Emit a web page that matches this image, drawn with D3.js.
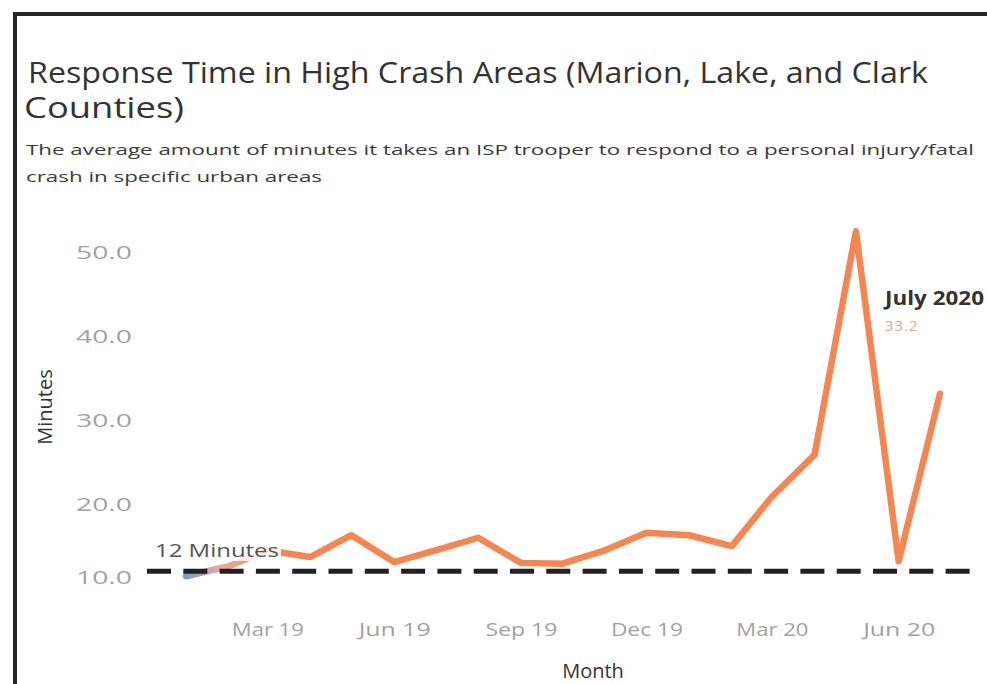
<!DOCTYPE html>
<html>
<head>
<meta charset="utf-8">
<script src="https://cdn.jsdelivr.net/npm/d3@7"></script>
<style>
  html, body { margin: 0; padding: 0; background: #fff; }
  svg { display: block; font-family: "Open Sans", "Noto Sans", sans-serif; }
</style>
</head>
<body>
<svg id="chart" width="987" height="684"></svg>
<script>
// Monthly average response time (minutes), Jan 2019 – Jul 2020
const months = ["2019-01", "2019-02", "2019-03", "2019-04", "2019-05", "2019-06",
                "2019-07", "2019-08", "2019-09", "2019-10", "2019-11", "2019-12",
                "2020-01", "2020-02", "2020-03", "2020-04", "2020-05", "2020-06", "2020-07"];
const minutes = [11.4, 12.6, 14.5, 13.7, 16.3, 13.1, 14.5, 16.0, 13.0, 12.9, 14.5, 16.6,
                 16.3, 15.0, 20.9, 25.9, 52.6, 13.2, 33.2];
const yTicks = [10, 20, 30, 40, 50];
const xTicks = ["2019-03", "2019-06", "2019-09", "2019-12", "2020-03", "2020-06"];
const targetMinutes = 12;
const targetLabel = "12 Minutes";
const calloutTitle = "July 2020";

const parseMonth = d3.timeParse("%Y-%m");
const data = months.map((m, i) => ({ date: parseMonth(m), value: minutes[i] }));

const svg = d3.select("#chart");

// Frame edges
svg.append("line").attr("x1", 13).attr("x2", 987).attr("y1", 14).attr("y2", 14)
  .attr("stroke", "#262626").attr("stroke-width", 4);
svg.append("line").attr("x1", 15).attr("x2", 15).attr("y1", 12).attr("y2", 684)
  .attr("stroke", "#262626").attr("stroke-width", 4);

// Titles
svg.append("text").attr("x", 28).attr("y", 83)
  .attr("font-size", 29).attr("fill", "#333")
  .attr("textLength", 900).attr("lengthAdjust", "spacingAndGlyphs")
  .text("Response Time in High Crash Areas (Marion, Lake, and Clark");
svg.append("text").attr("x", 24).attr("y", 118)
  .attr("font-size", 29).attr("fill", "#333")
  .attr("textLength", 160).attr("lengthAdjust", "spacingAndGlyphs")
  .text("Counties)");
svg.append("text").attr("x", 26).attr("y", 155)
  .attr("font-size", 15).attr("fill", "#3a3a3a")
  .attr("textLength", 948).attr("lengthAdjust", "spacingAndGlyphs")
  .text("The average amount of minutes it takes an ISP trooper to respond to a personal injury/fatal");
svg.append("text").attr("x", 26).attr("y", 182)
  .attr("font-size", 15).attr("fill", "#3a3a3a")
  .attr("textLength", 296).attr("lengthAdjust", "spacingAndGlyphs")
  .text("crash in specific urban areas");

// Scales
const x = d3.scaleTime()
  .domain([parseMonth("2019-01"), parseMonth("2020-07")])
  .range([186, 940]);
const y = d3.scaleLinear().domain([10, 50]).range([588, 253]);

// Y axis (bottom label sits inside the pane)
const yAxis = svg.append("g").attr("transform", "translate(135,0)")
  .call(d3.axisLeft(y).tickValues(yTicks).tickSize(0).tickFormat(d3.format(".1f")));
yAxis.select(".domain").remove();
yAxis.selectAll("text")
  .attr("font-size", 18).attr("fill", "#a2a2a2")
  .attr("font-family", "'Open Sans', sans-serif")
  .attr("textLength", 56).attr("lengthAdjust", "spacingAndGlyphs")
  .attr("dy", d => d === 10 ? "-0.24em" : "0.32em");

svg.append("text")
  .attr("transform", "translate(52,407) rotate(-90)")
  .attr("text-anchor", "middle")
  .attr("font-size", 20).attr("fill", "#333")
  .text("Minutes");

// X axis
const xAxis = svg.append("g").attr("transform", "translate(0,620)")
  .call(d3.axisBottom(x).tickValues(xTicks.map(parseMonth)).tickSize(0)
    .tickFormat(d3.timeFormat("%b %y")));
xAxis.select(".domain").remove();
xAxis.selectAll("text")
  .attr("font-size", 18).attr("fill", "#a2a2a2")
  .attr("font-family", "'Open Sans', sans-serif")
  .attr("textLength", 72).attr("lengthAdjust", "spacingAndGlyphs")
  .attr("dy", "0.7em");

svg.append("text")
  .attr("x", 593).attr("y", 678)
  .attr("text-anchor", "middle")
  .attr("font-size", 20).attr("fill", "#333")
  .text("Month");

// Line coloured from blue at the start into orange
const grad = svg.append("defs").append("linearGradient")
  .attr("id", "lineGrad").attr("gradientUnits", "userSpaceOnUse")
  .attr("x1", x(data[0].date)).attr("x2", x(data[2].date))
  .attr("y1", 0).attr("y2", 0);
grad.append("stop").attr("offset", "0%").attr("stop-color", "#7f9cbc");
grad.append("stop").attr("offset", "45%").attr("stop-color", "#f0a7a0");
grad.append("stop").attr("offset", "100%").attr("stop-color", "#f5864f");

const line = d3.line().x(d => x(d.date)).y(d => y(d.value));
svg.append("path").datum(data)
  .attr("d", line)
  .attr("fill", "none")
  .attr("stroke", "url(#lineGrad)")
  .attr("stroke-width", 6.5)
  .attr("stroke-linejoin", "round")
  .attr("stroke-linecap", "round");

// Reference line label, on a white box over the line
const labelBox = svg.append("rect").attr("fill", "#fff").attr("opacity", 0.85);
const lbl = svg.append("text")
  .attr("x", 155).attr("y", 557)
  .attr("font-size", 19).attr("fill", "#555")
  .attr("textLength", 124).attr("lengthAdjust", "spacingAndGlyphs")
  .text(targetLabel);
const bb = lbl.node().getBBox();
labelBox
  .attr("x", bb.x - 2).attr("y", bb.y + 3)
  .attr("width", bb.width + 4).attr("height", bb.height - 5);

// Reference line
svg.append("line")
  .attr("x1", 147).attr("x2", 970)
  .attr("y1", y(targetMinutes)).attr("y2", y(targetMinutes))
  .attr("stroke", "#222").attr("stroke-width", 5)
  .attr("stroke-dasharray", "24 12.3");

// Last-point callout
const last = data[data.length - 1];
svg.append("text")
  .attr("x", 885).attr("y", 305)
  .attr("font-size", 19).attr("font-weight", "bold").attr("fill", "#333")
  .attr("textLength", 99).attr("lengthAdjust", "spacingAndGlyphs")
  .text(calloutTitle);
svg.append("text")
  .attr("x", 885).attr("y", 331)
  .attr("font-size", 15).attr("fill", "#d8aa92")
  .attr("letter-spacing", 1)
  .text(last.value.toFixed(1));
</script>
</body>
</html>
